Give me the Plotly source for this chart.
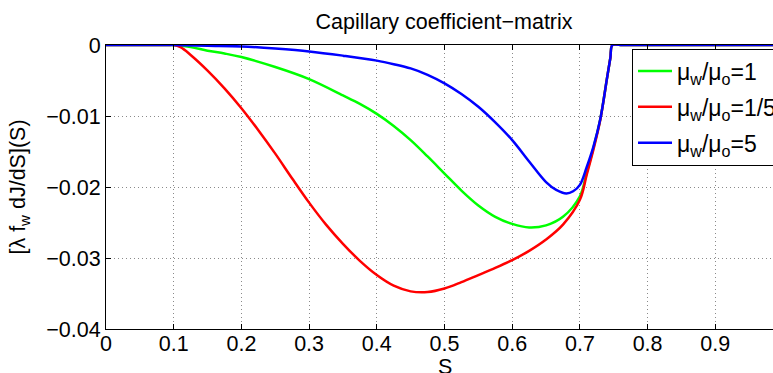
import plotly.graph_objects as go

# Saturation values and capillary coefficient curves for three viscosity ratios
S_green = [0.0, 0.09, 0.1, 0.125, 0.15, 0.175, 0.2, 0.25, 0.3, 0.35, 0.375, 0.4, 0.425,
           0.45, 0.475, 0.5, 0.525, 0.55, 0.575, 0.6, 0.625, 0.65, 0.675, 0.7, 0.71,
           0.72, 0.73, 0.74, 0.745, 0.748, 0.76, 1.0]
val_green = [0.0, 0.0, 0.0, -0.0003, -0.0008, -0.0012, -0.0017, -0.0031, -0.0048, -0.0071,
             -0.0083, -0.0097, -0.0114, -0.0134, -0.0157, -0.0181, -0.0205, -0.0226,
             -0.0242, -0.0252, -0.0257, -0.0254, -0.0242, -0.0213, -0.0180, -0.0145,
             -0.0105, -0.0047, -0.0018, 0.0, 0.0, 0.0]

S_red = [0.0, 0.09, 0.1, 0.11, 0.125, 0.15, 0.175, 0.2, 0.225, 0.25, 0.275, 0.3, 0.325,
         0.35, 0.375, 0.4, 0.425, 0.45, 0.475, 0.5, 0.525, 0.55, 0.575, 0.6, 0.625, 0.65,
         0.675, 0.7, 0.71, 0.72, 0.73, 0.74, 0.745, 0.748, 0.76, 1.0]
val_red = [0.0, 0.0, 0.0, -0.0003, -0.0014, -0.0036, -0.0061, -0.0089, -0.0120, -0.0153,
           -0.0188, -0.0222, -0.0253, -0.0280, -0.0304, -0.0324, -0.0339, -0.0347,
           -0.0348, -0.0343, -0.0334, -0.0324, -0.0314, -0.0303, -0.0290, -0.0274,
           -0.0253, -0.0218, -0.0183, -0.0147, -0.0106, -0.0047, -0.0018, 0.0, 0.0, 0.0]

S_blue = [0.0, 0.09, 0.1, 0.15, 0.2, 0.25, 0.3, 0.35, 0.4, 0.425, 0.45, 0.475, 0.5, 0.525,
          0.55, 0.575, 0.6, 0.625, 0.65, 0.665, 0.68, 0.69, 0.7, 0.71, 0.72, 0.73, 0.74,
          0.745, 0.748, 0.76, 1.0]
val_blue = [0.0, 0.0, 0.0, -0.0001, -0.0002, -0.0005, -0.0009, -0.0015, -0.0022, -0.0027,
            -0.0033, -0.0042, -0.0054, -0.0069, -0.0087, -0.0109, -0.0134, -0.0164,
            -0.0193, -0.0204, -0.0209, -0.0206, -0.0197, -0.0172, -0.0143, -0.0105,
            -0.0047, -0.0018, 0.0, 0.0, 0.0]

names = ["μ<sub>w</sub>/μ<sub>o</sub>=1",
         "μ<sub>w</sub>/μ<sub>o</sub>=1/5",
         "μ<sub>w</sub>/μ<sub>o</sub>=5"]
colors = ["#00ff00", "#ff0000", "#0000ff"]

x_ticks = [0, 0.1, 0.2, 0.3, 0.4, 0.5, 0.6, 0.7, 0.8, 0.9]
x_ticktext = ["0", "0.1", "0.2", "0.3", "0.4", "0.5", "0.6", "0.7", "0.8", "0.9"]
y_ticks = [0, -0.01, -0.02, -0.03, -0.04]
y_ticktext = ["0", "\u22120.01", "\u22120.02", "\u22120.03", "\u22120.04"]

FONT = "Liberation Sans, Arial, Helvetica, sans-serif"
FS = 21.5

fig = go.Figure()
for i, (xs, ys) in enumerate([(S_green, val_green), (S_red, val_red), (S_blue, val_blue)]):
    fig.add_trace(go.Scatter(
        x=xs, y=ys, mode="lines", name=names[i],
        line=dict(color=colors[i], width=2.5, shape="spline", smoothing=1.0),
        legendgroup=str(i),
    ))

W, H = 773, 373
L, T, B = 106, 45, 44
PH = H - T - B  # plot-area height in px

grid = dict(showgrid=True, gridcolor="#8a8a8a", griddash="1px,3px", gridwidth=1)

fig.update_layout(
    width=W, height=H,
    margin=dict(l=L, r=0, t=T, b=B, autoexpand=False),
    paper_bgcolor="white", plot_bgcolor="white",
    font=dict(family=FONT, size=FS, color="black"),
    title=dict(text="Capillary coefficient\u2212matrix", font=dict(size=FS),
               xref="container", x=444 / W, xanchor="center",
               yref="container", y=1 - 21 / H, yanchor="middle"),
    showlegend=True,
    legend=dict(x=(632 - L) / (W - L), xanchor="left",
                y=(H - B - 48.5) / PH, yanchor="top",
                bgcolor="white", bordercolor="black", borderwidth=1,
                font=dict(size=23), tracegroupgap=3, itemwidth=34),
    xaxis=dict(range=[0, (W - L) / 677.0], tickvals=x_ticks, ticktext=x_ticktext,
               showline=True, linecolor="black", linewidth=1, mirror="ticks",
               ticks="inside", ticklen=5, tickcolor="black",
               ticklabelstandoff=-5,
               zeroline=False, **grid),
    yaxis=dict(range=[-0.04, 0], tickvals=y_ticks, ticktext=y_ticktext,
               showline=True, linecolor="black", linewidth=1, mirror=False,
               ticks="inside", ticklen=5, tickcolor="black",
               zeroline=False, **grid,
               title=dict(text="[λ f<sub>w</sub> dJ/dS](S)", standoff=14, font=dict(size=FS))),
    annotations=[dict(text="S", xref="x", x=0.5, yref="paper", y=-(367 - (H - B)) / PH,
                      xanchor="center", yanchor="middle", showarrow=False,
                      font=dict(size=FS))],
)

fig.write_html("out.html")
